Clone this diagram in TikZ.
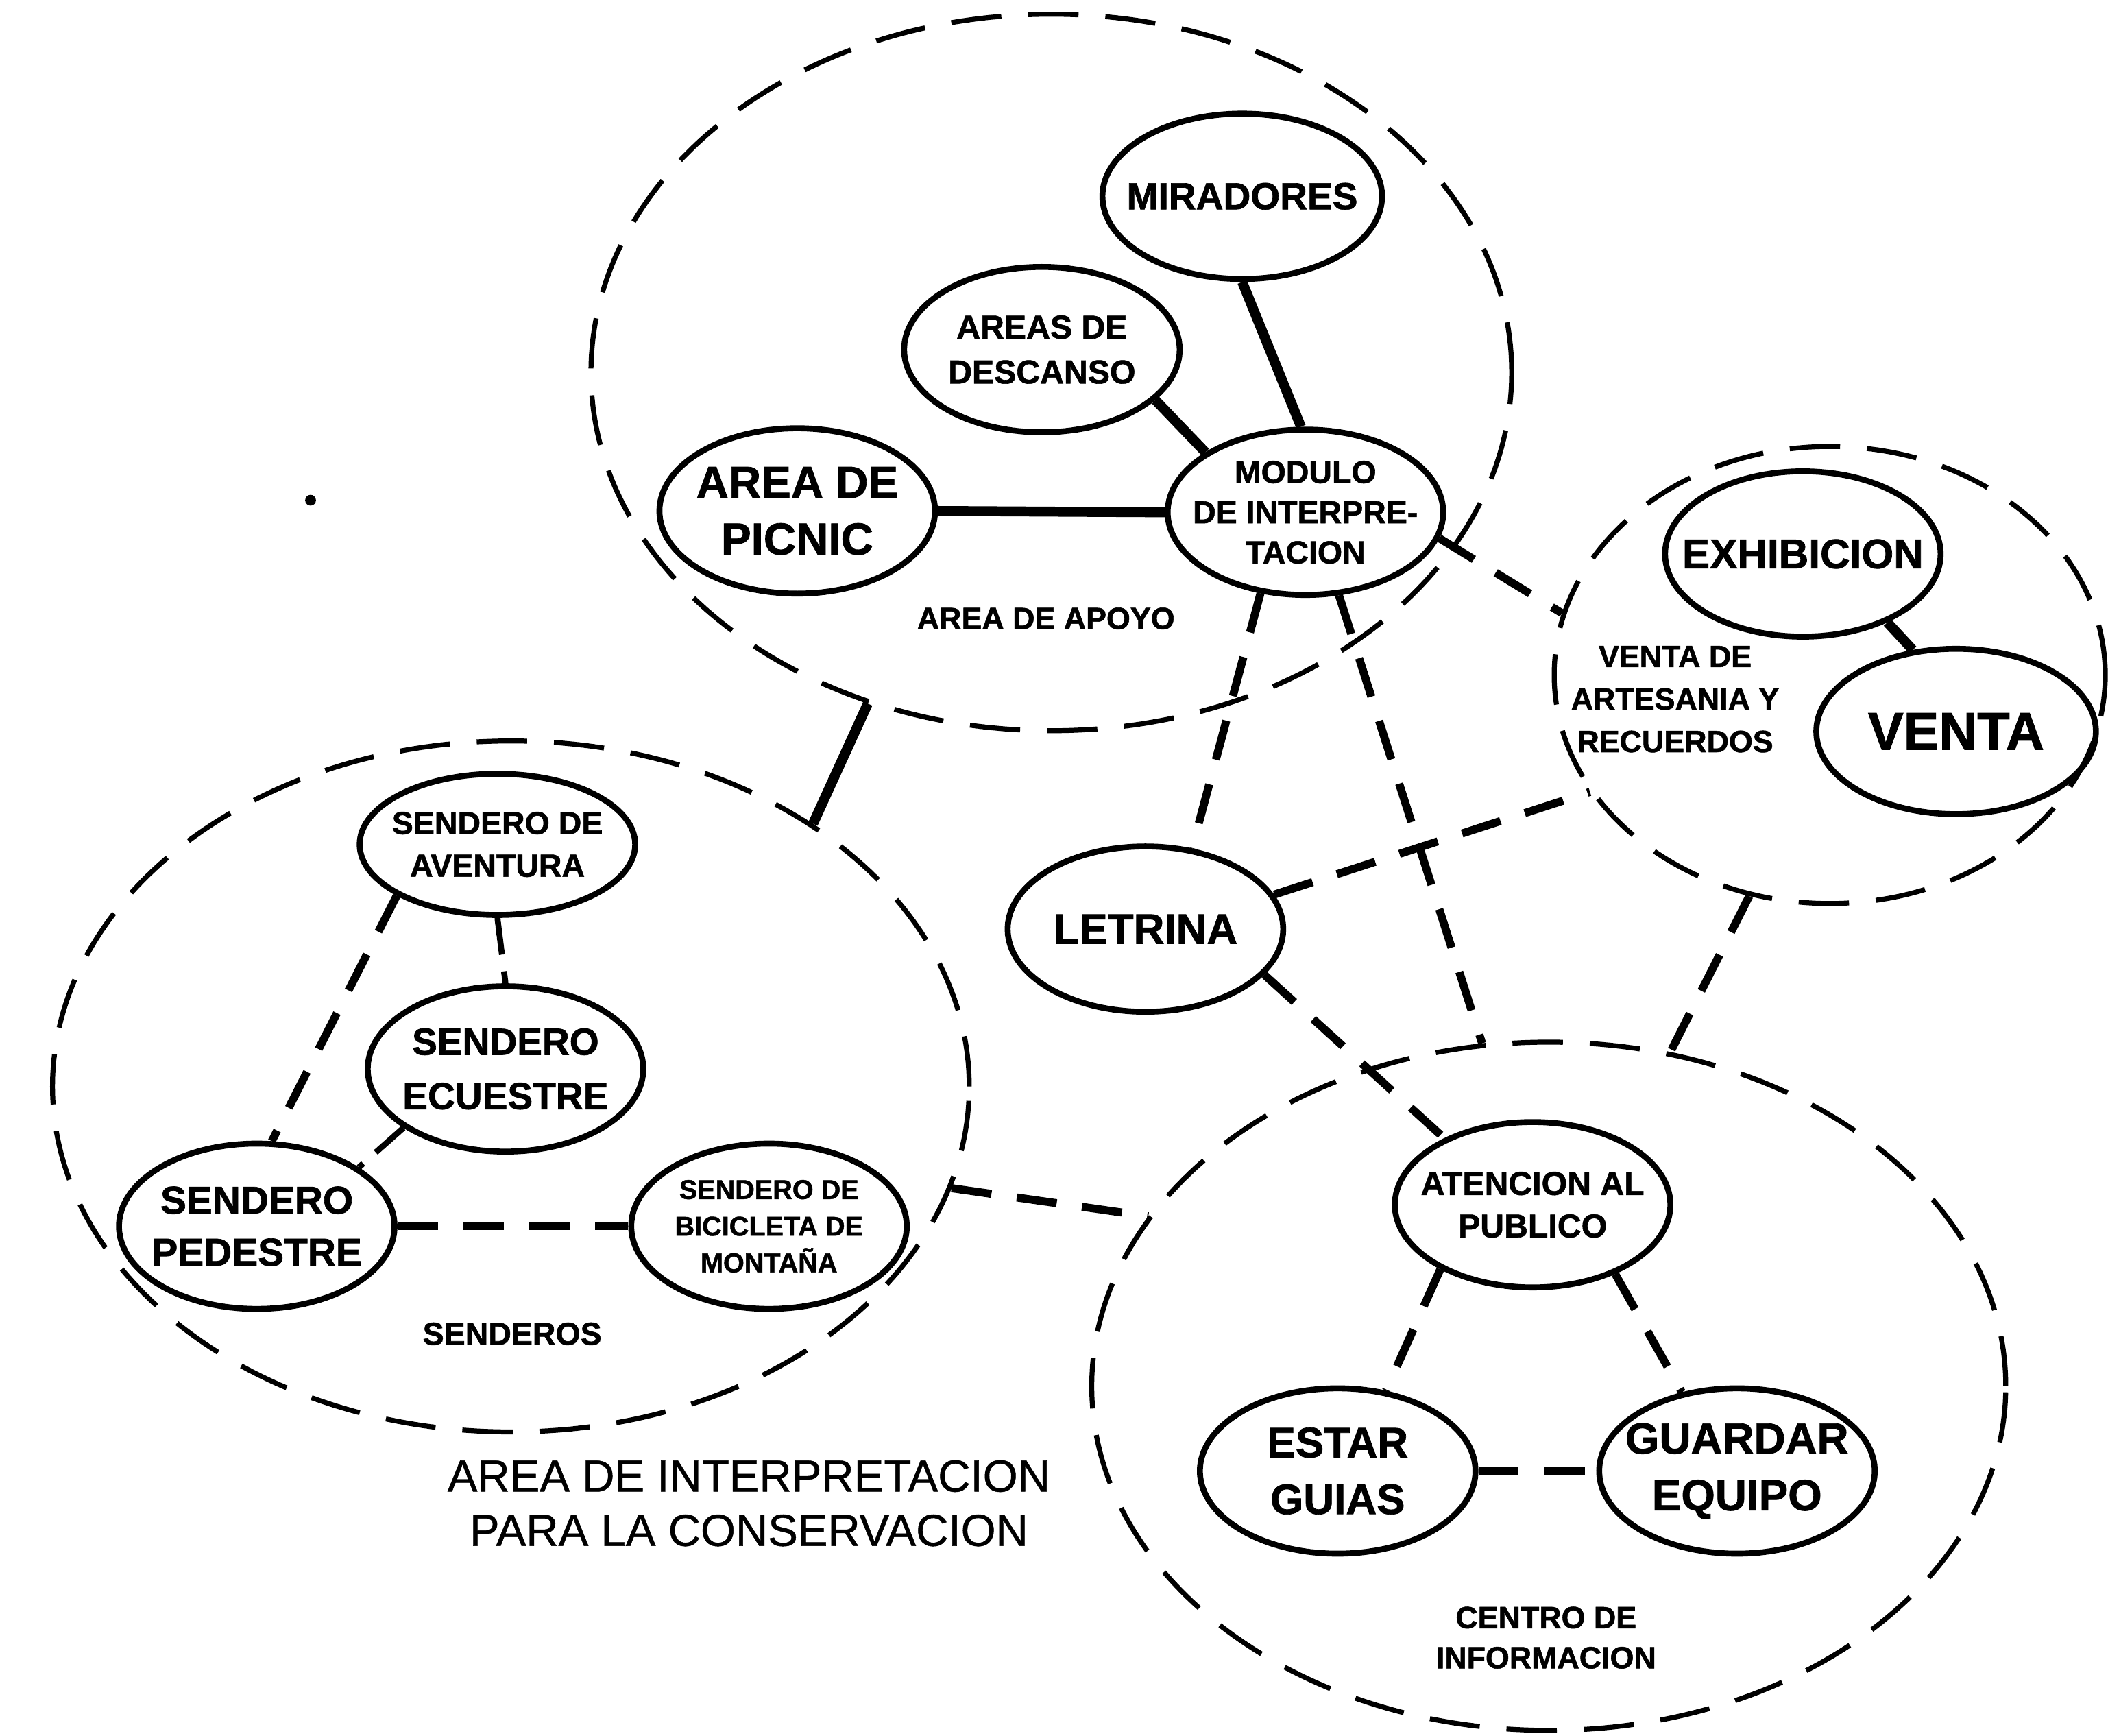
\documentclass[tikz,border=0pt]{standalone}
\usepackage{fontspec}
\setmainfont{Liberation Sans}[BoldFeatures={FakeBold=1.2}]
\newfontfamily\titlefont{Liberation Sans}[FakeBold=0.7]
\usetikzlibrary{shapes.geometric}
\begin{document}
\begin{tikzpicture}[x=0.02cm,y=-0.02cm,
  elem/.style={draw, ellipse, line width=2.5pt, inner xsep=-0.6cm, inner ysep=-0.45cm,
    minimum width=4.1cm, minimum height=2.46cm, align=center},
  grp/.style={draw, ellipse, line width=2.1pt, dash pattern=on 0.75cm off 0.4cm, inner sep=0pt},
  solidlink/.style={line width=4.2pt},
  dashlink/.style={line width=3.4pt, dash pattern=on 0.6cm off 0.38cm},
  thinlink/.style={line width=2.5pt, dash pattern=on 0.55cm off 0.25cm},
  lbl/.style={align=center, inner sep=0pt}
]
\useasboundingbox[fill=white] (0,0) rectangle (1568,1291);

% group ellipses
\node[grp, minimum width=13.7cm, minimum height=10.66cm] (gApoyo) at (782,277) {};
\node[grp, minimum width=13.64cm, minimum height=10.28cm] (gSend) at (380,808) {};
\node[grp, minimum width=8.2cm, minimum height=6.8cm] (gVenta) at (1361,502) {};
\node[grp, minimum width=13.6cm, minimum height=10.24cm] (gCentro) at (1152,1031) {};

% elements
\node[elem, minimum width=4.16cm, font=\bfseries\fontsize{16}{22}\selectfont] (mir) at (924,146) {MIRADORES};
\node[elem, font=\bfseries\fontsize{14}{19}\selectfont] (desc) at (775,260) {AREAS DE\\DESCANSO};
\node[elem, font=\bfseries\fontsize{19}{24}\selectfont] (picnic) at (593,380) {AREA DE\\PICNIC};
\node[elem, font=\bfseries\fontsize{13.5}{17}\selectfont] (mod) at (971,381) {MODULO\\DE INTERPRE-\\TACION};
\node[elem, font=\bfseries\fontsize{17.5}{22}\selectfont] (exh) at (1341,412) {EXHIBICION};
\node[elem, minimum width=4.16cm, font=\bfseries\fontsize{22.5}{26}\selectfont] (venta) at (1455,544) {VENTA};
\node[elem, font=\bfseries\fontsize{18}{22}\selectfont] (letrina) at (852,691) {LETRINA};
\node[elem, minimum height=2.1cm, font=\bfseries\fontsize{13.5}{18}\selectfont] (avent) at (370,628) {SENDERO DE\\AVENTURA};
\node[elem, font=\bfseries\fontsize{16}{23}\selectfont] (ecu) at (376,795) {SENDERO\\ECUESTRE};
\node[elem, font=\bfseries\fontsize{16.5}{22}\selectfont] (ped) at (191,912) {SENDERO\\PEDESTRE};
\node[elem, font=\bfseries\fontsize{11.5}{15.5}\selectfont] (bici) at (572,912) {SENDERO DE\\BICICLETA DE\\MONTAÑA};
\node[elem, font=\bfseries\fontsize{14}{18}\selectfont] (aten) at (1140,896) {ATENCION AL\\PUBLICO};
\node[elem, font=\bfseries\fontsize{18}{24}\selectfont] (estar) at (995,1094) {ESTAR\\GUIAS};
\node[elem, font=\bfseries\fontsize{18.5}{24}\selectfont] (guard) at (1292,1094) {GUARDAR\\EQUIPO};

% labels
\node[lbl, font=\bfseries\fontsize{13}{17}\selectfont] (lApoyo) at (778,460) {AREA DE APOYO};
\node[lbl, font=\bfseries\fontsize{13.5}{17}\selectfont] (lSend) at (381,992) {SENDEROS};
\node[lbl, font=\bfseries\fontsize{13}{18}\selectfont] (lVenta) at (1246,520) {VENTA DE\\ARTESANIA Y\\RECUERDOS};
\node[lbl, font=\bfseries\fontsize{13}{17}\selectfont] (lCentro) at (1150,1218) {CENTRO DE\\INFORMACION};
\node[lbl, font=\titlefont\fontsize{19}{23}\selectfont] (title) at (557,1118) {AREA DE INTERPRETACION\\PARA LA CONSERVACION};

\fill (231,372) circle (0.08cm);

% connectors
\draw[solidlink] (mir.-90) -- (mod.93);
\draw[solidlink] (desc.-24) -- (mod.149);
\draw[solidlink] (picnic.east) -- (mod.west);
\draw[solidlink] (exh.-39) -- (venta.118);
\draw[dashlink] (mod.241) -- (letrina.60);
\draw[dashlink] (mod.-68) -- (gCentro.101);
\draw[dashlink] (mod.-11) -- (gVenta.167);
\draw[dashlink] (letrina.15) -- (gVenta.206);
\draw[dashlink] (letrina.-21) -- (aten.143);
\draw[dashlink] (gVenta.-110) -- (gCentro.70);
\draw[solidlink] (gApoyo.-119) -- (gSend.41);
\draw[dashlink] (gSend.-13) -- (gCentro.157);
\draw[thinlink] (avent.south) -- (ecu.north);
\draw[dashlink] (avent.207) -- (ped.80);
\draw[thinlink] (ecu.210) -- (ped.30);
\draw[dashlink] (ped.east) -- (bici.west);
\draw[dashlink] (aten.215) -- (estar.59);
\draw[dashlink] (aten.-40) -- (guard.125);
\draw[dashlink] (estar.east) -- (guard.west);
\end{tikzpicture}
\end{document}
